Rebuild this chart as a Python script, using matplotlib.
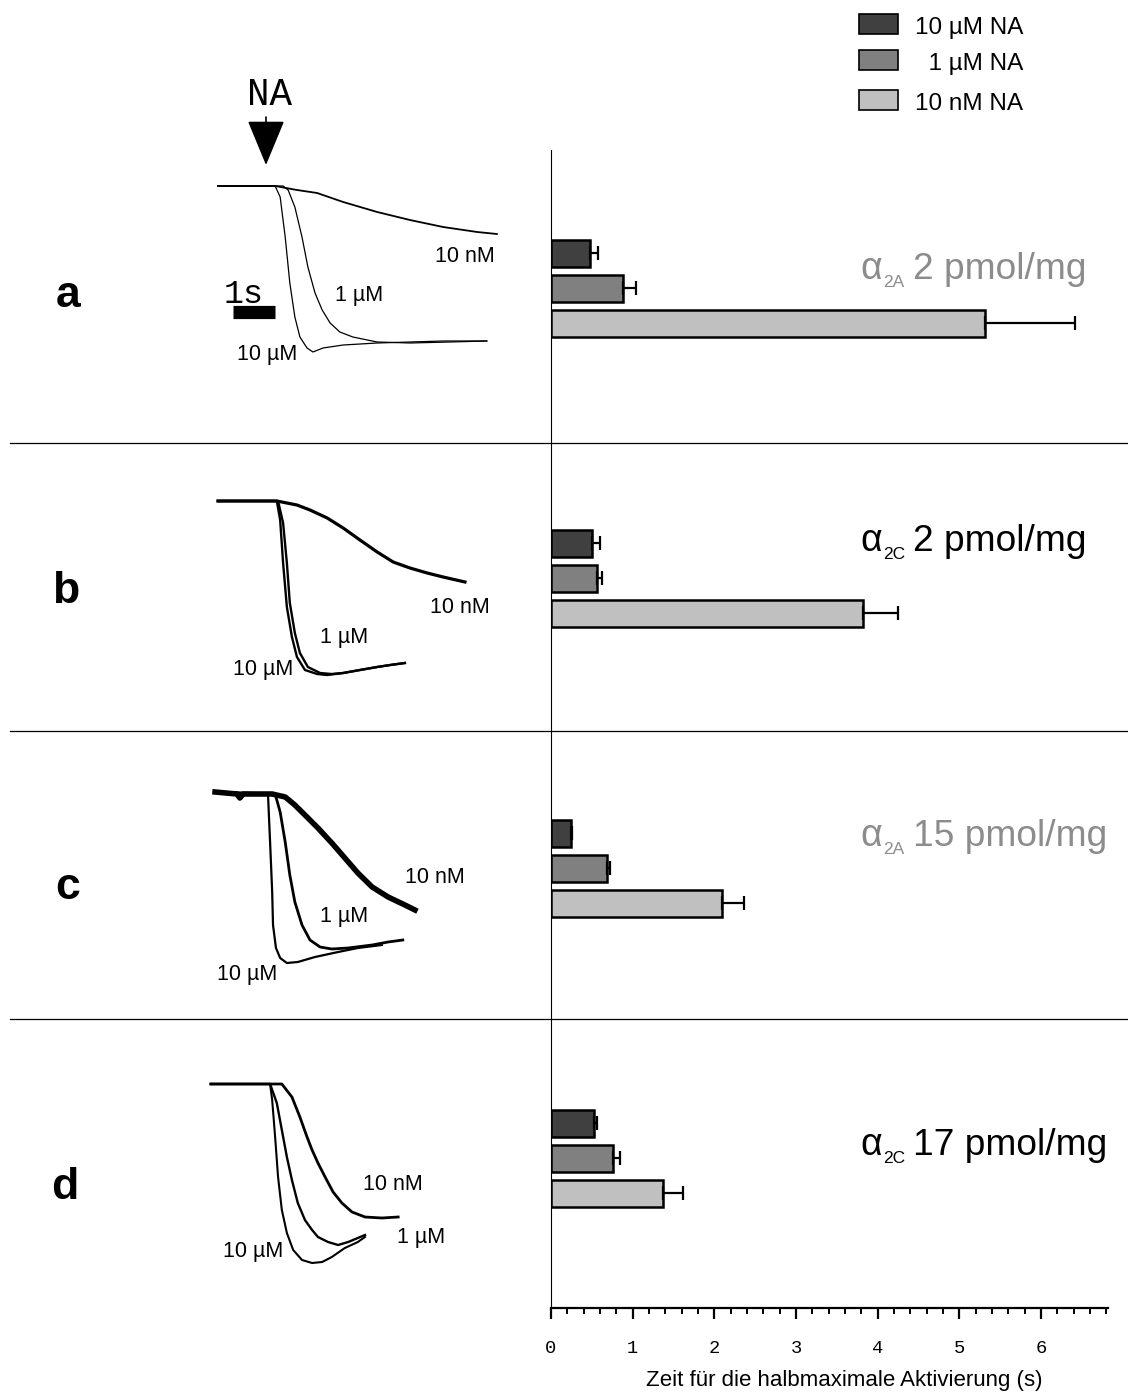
import matplotlib
matplotlib.use("Agg")
import matplotlib.pyplot as plt
from matplotlib.patches import Rectangle
from matplotlib.ticker import MultipleLocator

# ---------------- data ----------------
panel_letters = ["a", "b", "c", "d"]
receptor_sub = ["2A", "2C", "2A", "2C"]
receptor_density = ["2 pmol/mg", "2 pmol/mg", "15 pmol/mg", "17 pmol/mg"]
legend_labels = ["10 \u00b5M NA", "  1 \u00b5M NA", "10 nM NA"]
trace_labels = ["10 \u00b5M", "1 \u00b5M", "10 nM"]
x_ticks = [0, 1, 2, 3, 4, 5, 6]
x_label = "Zeit f\u00fcr die halbmaximale Aktivierung (s)"

# time to half-maximal activation (s) and error, per panel a-d
t_half_10uM = [0.48, 0.50, 0.24, 0.53]
err_10uM = [0.09, 0.10, 0.02, 0.03]
t_half_1uM = [0.88, 0.56, 0.69, 0.76]
err_1uM = [0.16, 0.07, 0.03, 0.09]
t_half_10nM = [5.32, 3.82, 2.09, 1.37]
err_10nM = [1.09, 0.43, 0.27, 0.25]

# traces: time (s) and normalized signal
a_10uM_t = [0, 1.36, 1.48, 1.60, 1.71, 1.83, 1.95, 2.12, 2.26, 2.50, 2.98, 3.79, 4.57, 5.36, 6.40]
a_10uM_s = [0, 0, -0.11, -0.51, -0.97, -1.31, -1.51, -1.62, -1.66, -1.62, -1.59, -1.57, -1.56, -1.55, -1.55]
a_1uM_t = [0, 1.55, 1.67, 1.83, 2.00, 2.14, 2.31, 2.48, 2.67, 2.90, 3.21, 3.79, 4.57, 5.52, 6.40]
a_1uM_s = [0, 0, -0.04, -0.21, -0.51, -0.81, -1.07, -1.24, -1.37, -1.46, -1.51, -1.56, -1.57, -1.56, -1.55]
a_10nM_t = [0, 1.36, 1.88, 2.36, 2.98, 3.79, 4.57, 5.36, 6.17, 6.64]
a_10nM_s = [0, 0, -0.04, -0.07, -0.16, -0.26, -0.34, -0.41, -0.46, -0.48]

b_10uM_t = [0, 1.40, 1.48, 1.55, 1.64, 1.76, 1.88, 2.07, 2.36, 2.60, 2.98, 3.38, 3.79, 4.10, 4.45]
b_10uM_s = [0, 0, -0.19, -0.62, -1.06, -1.36, -1.56, -1.69, -1.73, -1.74, -1.72, -1.69, -1.66, -1.64, -1.62]
b_1uM_t = [0, 1.43, 1.55, 1.64, 1.71, 1.83, 1.95, 2.14, 2.43, 2.70, 2.98, 3.38, 3.79, 4.10, 4.45]
b_1uM_s = [0, 0, -0.22, -0.62, -1.02, -1.32, -1.52, -1.66, -1.72, -1.73, -1.72, -1.69, -1.66, -1.64, -1.62]
b_10nM_t = [0, 1.40, 1.88, 2.19, 2.60, 2.98, 3.38, 3.79, 4.17, 4.57, 4.98, 5.36, 5.88]
b_10nM_s = [0, 0, -0.04, -0.09, -0.17, -0.27, -0.39, -0.51, -0.61, -0.67, -0.72, -0.76, -0.81]

c_10uM_t = [-0.07, 1.19, 1.24, 1.29, 1.31, 1.38, 1.48, 1.64, 1.90, 2.31, 2.86, 3.33, 3.90]
c_10uM_s = [0, -0.02, -0.50, -1.00, -1.33, -1.56, -1.66, -1.71, -1.70, -1.65, -1.60, -1.56, -1.53]
c_1uM_t = [-0.07, 1.36, 1.48, 1.60, 1.71, 1.83, 2.00, 2.19, 2.43, 2.71, 3.10, 3.67, 4.05, 4.40]
c_1uM_s = [0, -0.02, -0.20, -0.50, -0.83, -1.10, -1.33, -1.48, -1.55, -1.57, -1.56, -1.53, -1.50, -1.48]
c_10nM_t = [-0.07, 0.45, 0.52, 0.60, 1.29, 1.60, 1.83, 2.07, 2.38, 2.71, 3.02, 3.33, 3.67, 4.05, 4.45, 4.69]
c_10nM_s = [0, -0.02, -0.06, -0.02, -0.02, -0.05, -0.13, -0.23, -0.36, -0.51, -0.66, -0.81, -0.95, -1.05, -1.13, -1.18]

d_10uM_t = [-0.17, 1.24, 1.29, 1.36, 1.43, 1.52, 1.64, 1.79, 2.00, 2.24, 2.48, 2.71, 3.02, 3.33, 3.50]
d_10uM_s = [0, 0, -0.16, -0.53, -0.93, -1.26, -1.49, -1.66, -1.76, -1.79, -1.78, -1.73, -1.64, -1.58, -1.53]
d_1uM_t = [-0.17, 1.24, 1.40, 1.52, 1.64, 1.76, 1.90, 2.07, 2.24, 2.38, 2.62, 2.86, 3.10, 3.50]
d_1uM_s = [0, 0, -0.19, -0.46, -0.73, -0.96, -1.19, -1.36, -1.46, -1.53, -1.58, -1.61, -1.58, -1.51]
d_10nM_t = [-0.17, 1.52, 1.76, 1.95, 2.12, 2.24, 2.38, 2.55, 2.74, 2.95, 3.19, 3.50, 3.90, 4.29]
d_10nM_s = [0, 0, -0.13, -0.33, -0.53, -0.66, -0.79, -0.93, -1.08, -1.19, -1.28, -1.33, -1.34, -1.33]

traces = [
    [(a_10uM_t, a_10uM_s), (a_1uM_t, a_1uM_s), (a_10nM_t, a_10nM_s)],
    [(b_10uM_t, b_10uM_s), (b_1uM_t, b_1uM_s), (b_10nM_t, b_10nM_s)],
    [(c_10uM_t, c_10uM_s), (c_1uM_t, c_1uM_s), (c_10nM_t, c_10nM_s)],
    [(d_10uM_t, d_10uM_s), (d_1uM_t, d_1uM_s), (d_10nM_t, d_10nM_s)],
]

# ---------------- style / layout ----------------
W, H = 1128, 1392
bar_colors = ["#404040", "#808080", "#c0c0c0"]
sans = ["Liberation Sans", "DejaVu Sans"]
mono = ["Liberation Mono", "DejaVu Sans Mono"]
plt.rcParams["font.family"] = sans

fig = plt.figure(figsize=(W / 100, H / 100), dpi=100)


def px_rect(x0, y0, x1, y1):
    return [x0 / W, 1 - y1 / H, (x1 - x0) / W, (y1 - y0) / H]


overlay = fig.add_axes([0, 0, 1, 1], zorder=0)
overlay.set_xlim(0, W)
overlay.set_ylim(H, 0)
overlay.axis("off")

# separators between panels
for ysep in (443, 731, 1019):
    overlay.plot([10, W], [ysep, ysep], color="black", lw=0.9)

# ---------------- bar chart ----------------
bx = fig.add_axes(px_rect(551, 150, 1108, 1308), zorder=2)
bx.patch.set_alpha(0)
bx.set_xlim(0, (1108 - 551) / 81.67)
bx.set_ylim(1308, 150)
for sp in ("top", "right"):
    bx.spines[sp].set_visible(False)
bx.spines["left"].set_linewidth(0.8)
bx.spines["bottom"].set_linewidth(1.6)
bx.set_yticks([])
bx.set_xticks(x_ticks)
bx.set_xticklabels([str(v) for v in x_ticks], family=mono, fontsize=13.5)
bx.xaxis.set_minor_locator(MultipleLocator(0.2))
bx.tick_params(axis="x", which="major", direction="out", length=8, width=1.6, pad=15)
bx.tick_params(axis="x", which="minor", direction="out", length=4, width=1.4)

series = [(t_half_10uM, err_10uM), (t_half_1uM, err_1uM), (t_half_10nM, err_10nM)]
for j, (vals, errs) in enumerate(series):
    ys = [288 + 290 * i + (j - 1) * 35 for i in range(len(vals))]
    bx.barh(ys, vals, height=27, color=bar_colors[j], edgecolor="black", linewidth=1.8,
            xerr=[[0] * len(errs), errs],
            error_kw=dict(ecolor="black", elinewidth=1.6, capsize=5, capthick=1.6), zorder=3)

overlay.text(844, 1386, x_label, fontsize=16, ha="center", va="baseline")

# receptor labels
for i in range(4):
    col = "#8c8c8c" if receptor_sub[i] == "2A" else "black"
    yb = [279, 551, 846, 1155][i]
    overlay.text(860, yb, "\u03b1", fontsize=27, color=col, ha="left", va="baseline")
    overlay.text(883, yb + 8, receptor_sub[i], fontsize=12.5, color=col, ha="left", va="baseline")
    overlay.text(913, yb, receptor_density[i], fontsize=26.7, color=col, ha="left", va="baseline")

# panel letters
for i, (lx, lyb) in enumerate([(68, 307), (66, 603), (68, 899), (65, 1199)]):
    overlay.text(lx, lyb, panel_letters[i], fontsize=32, fontweight="bold", ha="center", va="baseline")

# legend
for j, (ly, lx) in enumerate([(14, 915), (50, 915), (90, 915)]):
    overlay.add_patch(Rectangle((859, ly), 39, 20, facecolor=bar_colors[j], edgecolor="black", lw=1.2))
    overlay.text(lx, ly + 20, legend_labels[j], fontsize=17.5, ha="left", va="baseline")

# ---------------- traces ----------------
bases = [186, 501, 792, 1084]
trace_lw = [[0.9, 0.9, 1.3], [1.7, 1.7, 2.3], [1.6, 2.0, 4.0], [1.5, 1.7, 2.0]]
for i in range(4):
    tx = fig.add_axes(px_rect(200, bases[i] - 30, 520, bases[i] + 200), zorder=1)
    tx.patch.set_alpha(0)
    tx.set_xlim((200 - 218) / 42, (520 - 218) / 42)
    tx.set_ylim(-2.0, 0.3)
    tx.axis("off")
    for j, (tt, ss) in enumerate(traces[i]):
        tx.plot(tt, ss, color="black", lw=trace_lw[i][j], solid_joinstyle="round")
    if i == 0:
        tx.plot([0.36, 1.36], [-1.26, -1.26], color="black", lw=9.5, solid_capstyle="butt")
        tx.text(0.62, -1.17, "1s", family=mono, fontsize=24, ha="center", va="baseline")

# concentration labels (10 uM, 1 uM, 10 nM) per panel: (x_left, baseline)
conc_pos = [
    [(237, 360), (335, 301), (435, 262)],
    [(233, 675), (320, 643), (430, 613)],
    [(217, 980), (320, 922), (405, 883)],
    [(223, 1257), (397, 1243), (363, 1190)],
]
for i in range(4):
    for j in range(3):
        x, y = conc_pos[i][j]
        overlay.text(x, y, trace_labels[j], fontsize=15.5, ha="left", va="baseline")

# NA arrow
overlay.text(269, 105, "NA", family=mono, fontsize=27, ha="center", va="baseline")
overlay.annotate("", xy=(266, 165), xytext=(266, 117),
                 arrowprops=dict(arrowstyle="-|>,head_length=1.45,head_width=0.6",
                                 color="black", lw=1.2, shrinkA=0, shrinkB=0,
                                 mutation_scale=20))

fig.savefig("out.png", dpi=100)
